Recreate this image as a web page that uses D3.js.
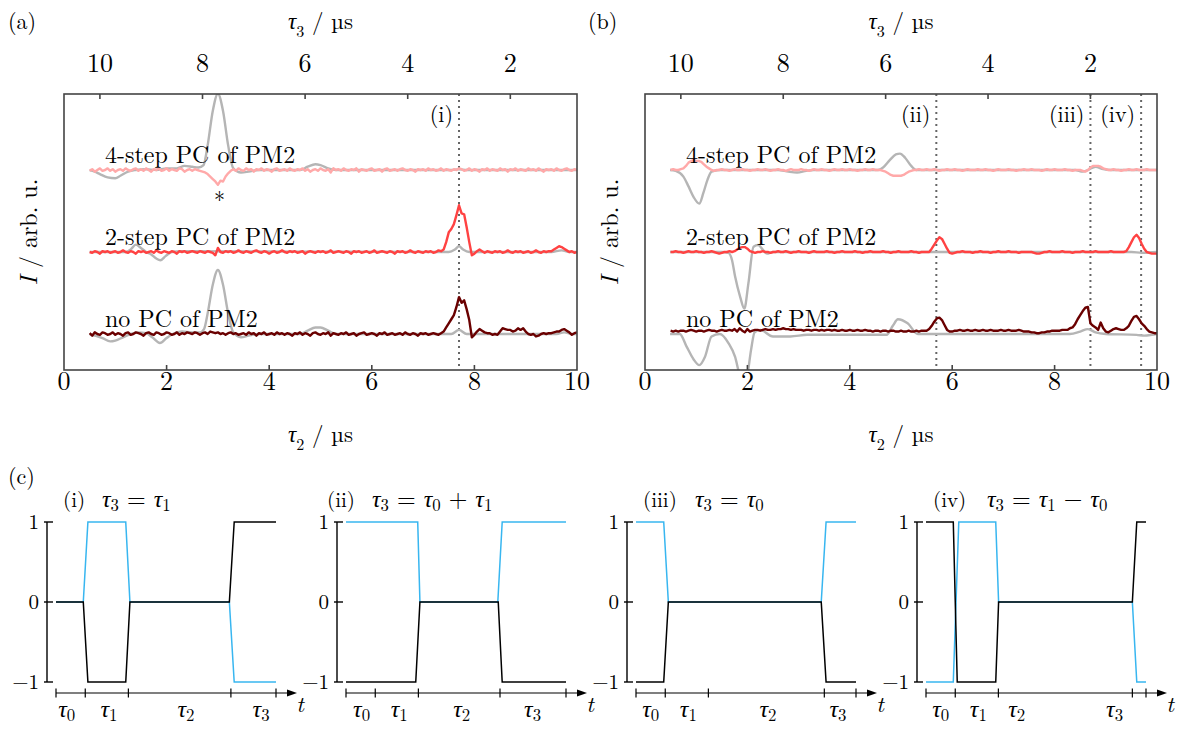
<!DOCTYPE html>
<html><head><meta charset="utf-8">
<script src="https://cdn.jsdelivr.net/npm/d3@7"></script>
</head><body style="margin:0;background:#fff">
<svg id="chart" width="1184" height="729"></svg>
<script>
// ---------------- DATA ----------------
const tau2Ticks = [0, 2, 4, 6, 8, 10];
const tau3Ticks = [10, 8, 6, 4, 2];
const tauTotal = 10.7;              // tau3 = tauTotal - tau2
const seriesLabels = ["4-step PC of PM2", "2-step PC of PM2", "no PC of PM2"];
const seriesOffsets = [2, 1, 0];
const seriesColors = ["#ffa9a9", "#ff4242", "#6a0000"];
const grayColor = "#b5b5b5";
const markersA = [{tau: 7.70, label: "(i)"}];
const markersB = [{tau: 5.69, label: "(ii)"}, {tau: 8.70, label: "(iii)"}, {tau: 9.69, label: "(iv)"}];

// colored (measured) traces, sampled at tau2 = 0.50, 0.55, ... 10.00 µs
const pinkA = [
 -0.01,0.01,-0.02,0.00,0.02,-0.01,0.00,0.02,-0.01,0.01,
 -0.02,0.00,0.01,-0.01,0.02,0.00,-0.01,0.01,0.02,-0.01,
 0.01,-0.01,0.02,0.00,-0.02,0.01,0.00,0.02,-0.01,0.00,
 0.02,-0.01,0.01,0.00,-0.01,0.02,0.01,-0.02,0.00,0.01,
 -0.01,0.01,0.00,-0.01,-0.02,-0.03,-0.05,-0.08,-0.11,-0.14,
 -0.18,-0.13,-0.14,-0.08,-0.04,-0.01,0.01,-0.01,0.02,0.00,
 -0.01,0.02,0.00,0.01,-0.02,0.01,0.00,0.02,-0.01,0.01,
 0.00,-0.02,0.01,0.02,-0.01,0.00,0.01,-0.01,0.02,0.00,
 -0.01,0.01,0.00,0.02,-0.01,0.01,-0.02,0.00,0.01,-0.01,
 0.02,0.00,-0.01,0.01,-0.03,0.02,0.00,0.01,-0.01,0.02,
 0.00,-0.01,0.01,0.00,0.02,-0.02,0.01,0.00,-0.01,0.01,
 0.02,-0.01,0.00,0.01,-0.02,0.01,0.02,-0.01,0.00,0.01,
 -0.01,0.01,0.02,0.00,-0.01,0.01,0.00,-0.02,0.01,0.00,
 0.01,-0.01,0.02,0.00,0.01,-0.01,0.00,0.02,-0.01,0.01,
 0.00,-0.01,0.01,0.00,0.02,0.01,-0.01,0.00,0.02,-0.01,
 0.01,0.00,-0.02,0.01,0.00,0.02,-0.01,0.01,0.00,-0.01,
 0.02,0.00,0.01,-0.02,0.01,0.00,0.02,-0.01,0.01,0.00,
 -0.01,0.02,0.00,0.01,-0.01,0.02,0.00,-0.02,0.01,0.00,
 0.01,-0.01,0.02,0.00,-0.01,0.01,0.02,0.00,-0.01,0.01,
 0.00];
const redA = [
 0.00,-0.01,0.01,0.00,-0.02,0.01,0.00,0.01,-0.01,0.00,
 0.01,-0.01,0.00,0.02,0.00,-0.01,0.01,0.00,-0.02,0.01,
 0.00,0.01,-0.01,0.00,0.01,-0.01,0.02,0.00,-0.01,0.01,
 0.00,-0.01,0.01,0.00,-0.02,0.01,0.00,0.01,-0.01,0.00,
 0.01,0.00,-0.01,0.01,0.00,-0.01,0.01,0.00,-0.01,-0.04,
 0.05,0.00,-0.01,0.01,0.00,0.01,-0.01,0.00,0.02,0.00,
 -0.01,0.01,0.00,-0.01,0.01,0.02,0.00,-0.01,0.01,0.00,
 -0.02,0.00,0.01,-0.01,0.00,0.02,0.00,-0.01,0.01,0.00,
 0.01,-0.01,0.00,0.01,-0.02,0.00,0.01,0.00,-0.01,0.01,
 0.00,0.01,-0.01,0.00,0.02,-0.01,0.00,0.01,0.00,-0.01,
 0.01,0.00,-0.02,0.01,0.00,0.01,-0.01,0.00,0.01,-0.01,
 0.00,0.02,-0.01,0.00,0.01,0.00,-0.01,0.01,0.00,-0.02,
 0.01,0.00,0.01,-0.01,0.00,0.02,0.00,-0.01,0.01,0.00,
 -0.01,0.01,0.00,0.01,-0.01,0.00,0.02,0.01,0.03,0.12,
 0.24,0.28,0.34,0.45,0.57,0.47,0.46,0.30,0.12,-0.04,
 -0.02,0.01,0.03,0.01,-0.01,0.01,0.00,-0.01,0.01,0.00,
 0.01,-0.01,0.00,0.02,0.00,-0.01,0.01,0.00,0.01,-0.01,
 0.00,0.01,-0.01,0.00,0.02,0.00,-0.01,0.01,0.00,0.01,
 0.01,0.03,0.05,0.07,0.06,0.04,0.02,0.00,0.01,-0.01,
 0.00];
const darkA = [
 0.01,-0.02,0.02,0.00,-0.01,0.02,0.01,-0.01,0.00,0.02,
 -0.01,0.01,0.00,-0.02,0.01,0.02,-0.01,0.00,0.02,0.01,
 0.00,-0.02,0.01,0.02,0.00,-0.01,0.02,0.01,-0.01,0.00,
 0.02,0.01,-0.01,0.00,0.02,-0.01,0.01,0.00,0.02,0.01,
 0.00,0.02,0.01,-0.01,0.01,0.02,0.00,0.03,0.02,0.01,
 0.02,0.00,0.01,-0.01,0.01,0.02,0.00,0.01,-0.01,0.00,
 0.01,-0.01,0.02,0.00,0.01,-0.02,0.01,0.00,0.02,-0.01,
 0.00,0.01,-0.01,0.02,0.00,0.01,-0.01,0.01,0.00,-0.02,
 0.01,0.00,0.02,-0.01,0.01,0.00,-0.02,0.01,0.02,0.00,
 -0.01,0.01,0.00,0.02,-0.02,0.01,0.00,-0.01,0.01,0.00,
 0.02,-0.01,0.00,0.01,-0.02,0.00,0.01,0.02,-0.01,0.00,
 0.01,0.00,-0.02,0.01,0.00,0.02,-0.01,0.00,0.01,-0.01,
 0.00,0.01,-0.01,0.02,0.00,-0.01,0.01,0.00,-0.02,0.01,
 0.00,0.01,-0.01,0.00,0.01,0.00,-0.01,0.01,0.03,0.08,
 0.13,0.18,0.23,0.33,0.45,0.38,0.41,0.30,0.17,-0.04,
 -0.01,0.03,0.06,0.04,0.02,0.01,0.01,-0.01,0.00,-0.01,
 0.03,0.07,0.06,0.05,0.05,0.03,0.04,0.07,0.05,0.07,
 0.03,0.00,-0.01,0.00,-0.03,-0.02,0.00,0.01,0.00,0.01,
 0.01,0.02,0.03,0.03,0.05,0.06,0.04,0.02,-0.01,0.01,
 0.02];
const pinkB = [
 0.00,0.01,0.00,0.00,0.01,0.02,0.05,0.09,0.11,0.12,
 0.11,0.11,0.10,0.07,0.04,0.02,0.00,-0.01,0.00,0.00,
 0.01,0.00,0.00,-0.01,0.00,0.01,0.00,0.00,0.01,0.00,
 0.00,-0.01,0.00,0.00,0.01,0.00,0.00,0.01,0.00,-0.01,
 0.00,0.00,0.01,0.00,0.00,-0.01,0.00,0.01,0.00,0.00,
 0.00,0.01,0.00,0.00,-0.01,0.00,0.01,0.00,0.00,0.01,
 0.00,0.00,-0.01,0.00,0.01,0.00,0.00,0.01,0.00,0.00,
 0.01,0.00,0.00,-0.01,0.00,0.00,0.01,0.00,0.00,0.01,
 0.00,0.00,0.00,-0.01,-0.02,-0.04,-0.06,-0.07,-0.07,-0.07,
 -0.07,-0.06,-0.04,-0.02,-0.01,0.00,0.00,0.01,0.00,0.00,
 0.01,0.00,0.00,0.01,0.00,-0.01,0.00,0.00,0.01,0.00,
 0.00,0.01,0.00,0.00,-0.01,0.00,0.01,0.00,0.00,0.00,
 0.01,0.00,0.00,0.01,0.00,0.00,-0.01,0.00,0.01,0.00,
 0.00,0.00,0.01,0.00,0.00,-0.01,0.00,0.00,0.01,0.00,
 0.00,0.01,0.00,0.00,0.00,-0.01,0.00,0.01,0.00,0.00,
 0.01,0.00,0.00,0.00,0.01,0.00,0.00,-0.01,0.00,0.00,
 0.00,-0.01,-0.02,0.00,0.03,0.05,0.05,0.05,0.04,0.02,
 0.01,0.00,0.00,0.01,0.00,0.00,-0.01,0.00,0.00,0.01,
 0.00,0.00,0.01,0.00,0.00,0.00,0.01,0.00,0.00,0.00,
 0.00];
const redB = [
 0.00,0.00,0.01,0.00,0.00,-0.01,0.00,0.01,0.00,0.00,
 0.01,0.00,0.00,-0.01,0.00,0.00,0.01,0.00,-0.01,-0.02,
 -0.01,0.00,0.00,0.01,0.00,0.01,0.03,0.05,0.06,0.06,
 0.04,0.01,0.00,-0.01,0.00,0.00,0.01,0.00,0.00,-0.01,
 0.00,0.00,0.01,0.00,0.00,0.01,0.00,-0.01,0.00,0.00,
 0.01,0.00,0.00,0.00,-0.01,0.00,0.01,0.00,0.00,0.00,
 0.00,0.01,0.00,0.00,-0.01,0.00,0.00,0.01,0.00,0.00,
 0.00,0.00,0.01,0.00,0.00,-0.01,0.00,0.00,0.01,0.00,
 0.00,0.00,0.00,0.01,0.00,0.00,-0.01,0.00,0.00,0.01,
 0.00,0.00,0.00,0.00,0.01,0.00,0.00,-0.01,0.00,0.00,
 0.00,0.00,0.04,0.09,0.14,0.18,0.16,0.10,0.04,-0.01,
 -0.02,-0.01,0.00,0.00,0.01,0.00,0.00,0.00,-0.01,0.00,
 0.00,0.01,0.00,0.00,0.00,-0.01,0.00,0.00,0.01,0.00,
 0.00,0.00,0.01,0.00,0.00,0.00,-0.01,0.00,0.00,0.00,
 0.00,0.00,-0.01,-0.02,-0.02,-0.01,0.00,0.00,0.01,0.00,
 0.00,0.00,0.00,0.01,0.00,0.00,0.00,-0.01,0.00,0.00,
 0.00,0.01,0.00,0.00,0.00,0.00,0.01,0.00,0.00,0.00,
 0.00,0.00,0.01,0.00,0.00,0.00,0.00,0.00,0.01,0.06,
 0.12,0.18,0.21,0.17,0.10,0.04,0.00,-0.01,-0.02,-0.02,
 -0.02];
const darkB = [
 0.04,0.03,0.04,0.03,0.04,0.04,0.03,0.04,0.05,0.04,
 0.03,0.04,0.04,0.03,0.04,0.05,0.04,0.04,0.03,0.04,
 0.05,0.04,0.04,0.05,0.04,0.06,0.03,0.07,0.04,0.02,
 0.06,0.03,0.04,0.05,0.05,0.04,0.05,0.06,0.05,0.05,
 0.06,0.05,0.06,0.06,0.07,0.06,0.06,0.05,0.06,0.05,
 0.05,0.05,0.04,0.05,0.05,0.04,0.05,0.05,0.04,0.05,
 0.04,0.05,0.05,0.04,0.05,0.04,0.04,0.05,0.04,0.04,
 0.05,0.04,0.04,0.05,0.04,0.04,0.05,0.04,0.04,0.03,
 0.04,0.04,0.03,0.04,0.04,0.03,0.04,0.04,0.03,0.03,
 0.04,0.03,0.03,0.04,0.03,0.03,0.04,0.03,0.04,0.04,
 0.04,0.06,0.10,0.15,0.19,0.20,0.17,0.11,0.05,0.03,
 0.03,0.04,0.04,0.05,0.04,0.04,0.05,0.04,0.04,0.05,
 0.04,0.04,0.05,0.04,0.04,0.05,0.04,0.04,0.04,0.05,
 0.04,0.04,0.05,0.04,0.04,0.04,0.05,0.04,0.03,0.03,
 0.03,0.02,0.02,0.01,0.01,0.02,0.02,0.03,0.03,0.04,
 0.04,0.04,0.04,0.05,0.05,0.05,0.07,0.08,0.12,0.18,
 0.23,0.28,0.32,0.33,0.13,0.10,0.08,0.05,0.14,0.07,
 0.03,0.02,0.04,0.06,0.07,0.06,0.05,0.05,0.07,0.10,
 0.16,0.21,0.22,0.18,0.13,0.10,0.06,0.03,0.02,0.01,
 0.01];

// gray (reference) traces as [tau2, value] knots
const grayA4 = [[0.5,0],[0.6,-0.02],[0.7,-0.05],[0.85,-0.09],[1.0,-0.1],[1.1,-0.07],[1.25,-0.02],[1.4,0],[1.6,0.01],[1.8,0],[2.0,0.02],[2.2,0.02],[2.35,0.05],[2.5,0.04],[2.62,0.03],[2.72,0.06],[2.8,0.3],[2.9,0.72],[3.0,0.93],[3.1,0.72],[3.2,0.3],[3.3,0.02],[3.45,-0.03],[3.6,-0.02],[3.8,0],[4.6,0],[4.75,0.04],[4.9,0.07],[5.0,0.06],[5.15,0.02],[5.3,0],[7.55,0],[7.7,0.01],[7.85,0],[10,0]];
const grayA2 = [[0.5,0],[1.2,0],[1.3,0.03],[1.4,0.09],[1.5,0.05],[1.6,0],[1.7,-0.03],[1.8,-0.08],[1.88,-0.1],[1.98,-0.05],[2.1,0],[2.3,0.01],[7.5,0],[7.62,0.03],[7.7,0.07],[7.78,0.03],[7.9,0],[9.5,0],[9.7,0.02],[9.85,0],[10,0]];
const grayA0 = [[0.5,0],[0.6,-0.02],[0.75,-0.05],[0.9,-0.09],[1.0,-0.08],[1.15,-0.04],[1.3,0],[1.45,0.02],[1.6,0.01],[1.72,-0.04],[1.87,-0.11],[2.0,-0.05],[2.12,0],[2.3,0.03],[2.5,0.02],[2.65,0.02],[2.73,0.06],[2.8,0.25],[2.9,0.6],[3.0,0.78],[3.1,0.6],[3.2,0.25],[3.3,0.02],[3.45,-0.04],[3.6,-0.02],[3.8,0],[4.6,0],[4.75,0.04],[4.9,0.08],[5.0,0.08],[5.15,0.04],[5.3,0],[7.55,0],[7.7,0.05],[7.85,0],[9.6,0],[9.75,0.02],[9.9,0],[10,0]];
const grayB4 = [[0.49,0],[0.6,-0.01],[0.75,-0.08],[0.85,-0.2],[0.95,-0.33],[1.06,-0.41],[1.14,-0.28],[1.22,-0.12],[1.3,-0.02],[1.45,0],[2.6,0],[2.8,-0.02],[2.97,-0.03],[3.15,-0.01],[3.3,0],[4.55,0],[4.65,0.03],[4.78,0.12],[4.9,0.19],[4.98,0.2],[5.08,0.15],[5.2,0.05],[5.3,0],[8.4,0],[8.55,-0.02],[8.65,0],[8.8,0.04],[8.95,0.01],[9.1,0],[10,0]];
const grayB2 = [[0.49,0],[1.5,0],[1.63,-0.01],[1.7,-0.1],[1.76,-0.3],[1.86,-0.55],[1.94,-0.69],[2.02,-0.38],[2.12,0.065],[2.21,0.085],[2.3,0.03],[2.38,-0.02],[2.5,0],[9.5,0],[9.7,-0.01],[10,0]];
const grayB0 = [[0.49,0],[0.68,0],[0.81,-0.15],[0.95,-0.31],[1.06,-0.38],[1.17,-0.28],[1.3,-0.03],[1.46,0],[1.63,-0.11],[1.76,-0.28],[1.84,-0.48],[1.93,-0.62],[2.0,-0.5],[2.07,-0.2],[2.14,0.02],[2.25,0.05],[2.5,-0.03],[2.84,-0.03],[3.17,-0.01],[4.72,-0.01],[4.84,0.1],[4.94,0.18],[5.13,0.13],[5.33,0],[8.3,0],[8.5,0.03],[8.65,0.06],[8.8,0.02],[9.0,0],[9.6,-0.01],[9.75,-0.02],[9.9,-0.01],[10,0]];

// panel (c): pulse sequences, time in arbitrary units (0..10)
const pulseLevels = [1, 0, -1];
const pulseLabelNames = ["0", "1", "2", "3"];
const pulsePanels = [
 {tag: "(i)",  eq: [["τ","i"],["3","s"],[" = "],["τ","i"],["1","s"]],
  ticks: [0, 1.33, 3.29, 7.95, 10], labelPos: [0.49, 2.41, 5.91, 9.32],
  blue:  [[0,0],[1.24,0],[1.45,1],[3.17,1],[3.36,0],[7.88,0],[8.1,-1],[10,-1]],
  black: [[0,0],[1.24,0],[1.45,-1],[3.17,-1],[3.36,0],[7.88,0],[8.1,1],[10,1]]},
 {tag: "(ii)", eq: [["τ","i"],["3","s"],[" = "],["τ","i"],["0","s"],[" + "],["τ","i"],["1","s"]],
  ticks: [0, 1.33, 3.29, 7.0, 10], labelPos: [0.71, 2.42, 5.26, 8.48],
  blue:  [[0,1],[3.26,1],[3.36,0],[6.9,0],[7.1,1],[10,1]],
  black: [[0,-1],[3.17,-1],[3.36,0],[6.92,0],[7.1,-1],[10,-1]]},
 {tag: "(iii)", eq: [["τ","i"],["3","s"],[" = "],["τ","i"],["0","s"]],
  ticks: [0, 1.33, 3.29, 8.56, 10], labelPos: [0.67, 2.38, 6.0, 9.18],
  blue:  [[0,1],[1.26,1],[1.47,0],[8.42,0],[8.64,1],[10,1]],
  black: [[0,-1],[1.26,-1],[1.47,0],[8.42,0],[8.64,-1],[10,-1]]},
 {tag: "(iv)", eq: [["τ","i"],["3","s"],[" = "],["τ","i"],["1","s"],[" − "],["τ","i"],["0","s"]],
  ticks: [0, 1.33, 3.29, 9.38, 10], labelPos: [0.67, 2.38, 4.12, 8.57],
  blue:  [[0,-1],[1.24,-1],[1.49,1],[3.17,1],[3.3,0],[9.38,0],[9.58,-1],[10,-1]],
  black: [[0,1],[1.24,1],[1.42,-1],[3.17,-1],[3.3,0],[9.38,0],[9.58,1],[10,1]]}
];

// ---------------- DRAWING ----------------
const FONT = '"Latin Modern Roman","Liberation Serif","Times New Roman",serif';
const svg = d3.select("#chart").style("font-family", FONT);

function mathText(parent, x, y, parts, size, anchor, subDy) {
  const t = parent.append("text").attr("x", x).attr("y", y)
    .attr("font-size", size).attr("text-anchor", anchor || "start");
  let cur = 0;
  parts.forEach(p => {
    const s = t.append("tspan").text(p[0]);
    const target = p[1] === "s" ? subDy : 0;
    if (target !== cur) { s.attr("dy", target - cur); cur = target; }
    if (p[1] === "i") s.style("font-style", "italic");
    if (p[1] === "s") s.attr("font-size", size * 0.7);
  });
  return t;
}

const y0 = 94, y1 = 370;
const yScale = d3.scaleLinear().domain([-0.439, 2.927]).range([y1, y0]);
const fineGrid = d3.range(pinkA.length).map(i => 0.5 + 0.05 * i);

const panels = [
  {x: d3.scaleLinear().domain([0, 10]).range([64, 577]), letter: "(a)", lx: 8,
   gray: [grayA4, grayA2, grayA0], col: [pinkA, redA, darkA], markers: markersA, star: true},
  {x: d3.scaleLinear().domain([0, 10]).range([645, 1157]), letter: "(b)", lx: 588,
   gray: [grayB4, grayB2, grayB0], col: [pinkB, redB, darkB], markers: markersB, star: false}
];

const defs = svg.append("defs");
panels.forEach((P, pi) => {
  const x = P.x;
  const [xa, xb] = x.range();
  const x3 = d3.scaleLinear().domain([tauTotal, tauTotal - 10]).range([xa, xb]);
  const g = svg.append("g");
  const clipId = "clip" + pi;
  defs.append("clipPath").attr("id", clipId).append("rect")
    .attr("x", xa).attr("y", y0).attr("width", xb - xa).attr("height", y1 - y0);

  const plot = g.append("g").attr("clip-path", `url(#${clipId})`);
  P.markers.forEach(m => {
    plot.append("line").attr("x1", x(m.tau)).attr("x2", x(m.tau)).attr("y1", y0).attr("y2", y1)
      .attr("stroke", "#666").attr("stroke-width", 2).attr("stroke-dasharray", "2,4");
  });
  const grayLine = d3.line().x(d => x(d[0])).y(d => yScale(d[1])).curve(d3.curveMonotoneX);
  P.gray.forEach((s, i) => {
    const off = seriesOffsets[i];
    plot.append("path").datum(s.map(d => [d[0], d[1] + off]))
      .attr("d", grayLine).attr("fill", "none").attr("stroke", grayColor).attr("stroke-width", 2.4);
  });
  const colLine = d3.line().x((d, i) => x(fineGrid[i])).y(d => yScale(d));
  P.col.forEach((s, i) => {
    const off = seriesOffsets[i];
    plot.append("path").datum(s.map(v => v + off))
      .attr("d", colLine).attr("fill", "none").attr("stroke", seriesColors[i])
      .attr("stroke-width", 2.4).attr("stroke-linejoin", "round");
  });
  seriesLabels.forEach((lab, i) => {
    g.append("text").attr("x", xa + 41).attr("y", yScale(seriesOffsets[i]) - 7.5)
      .attr("font-size", 24).text(lab);
  });
  P.markers.forEach(m => {
    g.append("text").attr("x", x(m.tau) - 6).attr("y", 122).attr("text-anchor", "end")
      .attr("font-size", 22).text(m.label);
  });
  if (P.star) {
    g.append("text").attr("x", x(3.03)).attr("y", yScale(2) + 38).attr("text-anchor", "middle")
      .attr("font-size", 22).text("*");
  }
  g.append("rect").attr("x", xa).attr("y", y0).attr("width", xb - xa).attr("height", y1 - y0)
    .attr("fill", "none").attr("stroke", "#444").attr("stroke-width", 1.6);
  tau2Ticks.filter(t => t > 0 && t < 10).forEach(t => {
    g.append("line").attr("x1", x(t)).attr("x2", x(t)).attr("y1", y1).attr("y2", y1 - 5)
      .attr("stroke", "#444").attr("stroke-width", 1.6);
  });
  tau2Ticks.forEach(t => {
    g.append("text").attr("x", x(t)).attr("y", 390).attr("text-anchor", "middle")
      .attr("font-size", 26).text(t);
  });
  tau3Ticks.forEach(t => {
    g.append("line").attr("x1", x3(t)).attr("x2", x3(t)).attr("y1", y0).attr("y2", y0 + 5)
      .attr("stroke", "#444").attr("stroke-width", 1.6);
    g.append("text").attr("x", x3(t)).attr("y", 72).attr("text-anchor", "middle")
      .attr("font-size", 26).text(t);
  });
  const cx = (xa + xb) / 2;
  mathText(g, cx, 29, [["τ", "i"], ["3", "s"], [" / µs"]], 23, "middle", 8);
  mathText(g, cx, 442, [["τ", "i"], ["2", "s"], [" / µs"]], 23, "middle", 8);
  g.append("text").attr("transform", `translate(${xa - 27},${(y0 + y1) / 2}) rotate(-90)`)
    .attr("text-anchor", "middle").attr("font-size", 24)
    .call(t => { t.append("tspan").style("font-style", "italic").text("I"); t.append("tspan").text(" / arb. u."); });
  g.append("text").attr("x", P.lx).attr("y", 29).attr("font-size", 22).text(P.letter);
});

// ----- panel (c)
svg.append("text").attr("x", 8).attr("y", 484).attr("font-size", 22).text("(c)");
const vScale = d3.scaleLinear().domain([-1, 1]).range([682, 522]);
pulsePanels.forEach((P, i) => {
  const ox = i * 290;
  const t = d3.scaleLinear().domain([0, 10]).range([ox + 56, ox + 276]);
  const g = svg.append("g");
  const axY = 693;
  g.append("line").attr("x1", ox + 47).attr("x2", ox + 47).attr("y1", vScale(1)).attr("y2", vScale(-1))
    .attr("stroke", "#000").attr("stroke-width", 1.4);
  pulseLevels.forEach(v => {
    g.append("line").attr("x1", ox + 44).attr("x2", ox + 53).attr("y1", vScale(v)).attr("y2", vScale(v))
      .attr("stroke", "#000").attr("stroke-width", 1.4);
    g.append("text").attr("x", ox + 39).attr("y", vScale(v) + 7).attr("text-anchor", "end")
      .attr("font-size", 21).text(v < 0 ? "−" + Math.abs(v) : v);
  });
  g.append("line").attr("x1", t(0)).attr("x2", ox + 290).attr("y1", axY).attr("y2", axY)
    .attr("stroke", "#000").attr("stroke-width", 1.2);
  g.append("path").attr("d", `M${ox + 297},${axY} L${ox + 287},${axY - 3.5} L${ox + 287},${axY + 3.5} Z`)
    .attr("fill", "#000");
  P.ticks.forEach(tk => {
    g.append("line").attr("x1", t(tk)).attr("x2", t(tk)).attr("y1", axY - 4.5).attr("y2", axY + 4.5)
      .attr("stroke", "#000").attr("stroke-width", 1.2);
  });
  P.labelPos.forEach((lp, k) => {
    mathText(g, t(lp), 717, [["τ", "i"], [pulseLabelNames[k], "s"]], 24, "middle", 4);
  });
  g.append("text").attr("x", ox + 300).attr("y", 712).attr("text-anchor", "middle")
    .attr("font-size", 23).style("font-style", "italic").text("t");
  const pl = d3.line().x(d => t(d[0])).y(d => vScale(d[1]));
  g.append("path").datum(P.blue).attr("d", pl).attr("fill", "none").attr("stroke", "#38b6f0").attr("stroke-width", 1.5);
  g.append("path").datum(P.black).attr("d", pl).attr("fill", "none").attr("stroke", "#000").attr("stroke-width", 1.5);
  const titleX = [63, 37, 63, 63][i], eqX = [102, 82, 115, 117][i];
  g.append("text").attr("x", ox + titleX).attr("y", 507).attr("font-size", 21).text(P.tag);
  mathText(g, ox + eqX, 507, P.eq, 24, "start", 4);
});
svg.selectAll("text").style("font-family", FONT);
</script>
</body></html>
